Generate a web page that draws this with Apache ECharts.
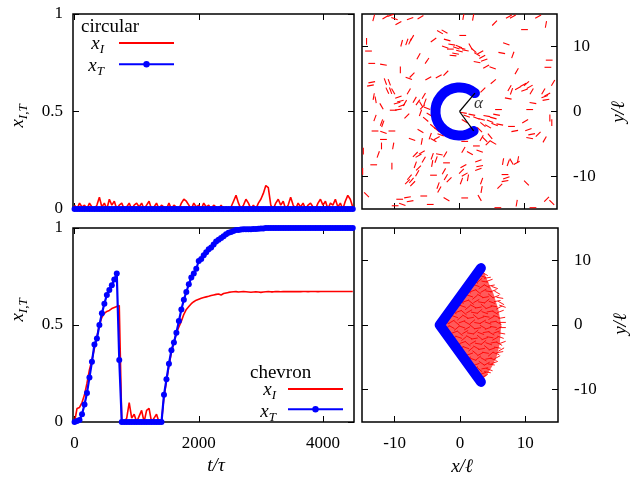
<!DOCTYPE html>
<html>
<head>
<meta charset="utf-8">
<script src="https://cdn.jsdelivr.net/npm/echarts@6/dist/echarts.min.js"></script>
<style>
html, body { margin: 0; padding: 0; background: #fff; }
#chart { width: 631px; height: 481px; }
</style>
</head>
<body>
<div id="chart"></div>
<script>
// time samples (t / tau)
const times = [
  0, 40, 80, 120, 160, 200, 240, 280, 320, 360, 400, 440, 480, 520, 560, 600, 640, 680, 720, 760,
  800, 840, 880, 920, 960, 1000, 1040, 1080, 1120, 1160, 1200, 1240, 1280, 1320, 1360, 1400, 1440, 1480, 1520, 1560,
  1600, 1640, 1680, 1720, 1760, 1800, 1840, 1880, 1920, 1960, 2000, 2040, 2080, 2120, 2160, 2200, 2240, 2280, 2320, 2360,
  2400, 2440, 2480, 2520, 2560, 2600, 2640, 2680, 2720, 2760, 2800, 2840, 2880, 2920, 2960, 3000, 3040, 3080, 3120, 3160,
  3200, 3240, 3280, 3320, 3360, 3400, 3440, 3480, 3520, 3560, 3600, 3640, 3680, 3720, 3760, 3800, 3840, 3880, 3920, 3960,
  4000, 4040, 4080, 4120, 4160, 4200, 4240, 4280, 4320, 4360, 4400, 4440, 4480
];

// circular obstacle
const circularXI = [
  0.02, 0.0, 0.03, 0.01, 0.02, 0.0, 0.03, 0.01, 0.0, 0.02, 0.06, 0.01, 0.03, 0.0, 0.05, 0.02, 0.04, 0.0, 0.02, 0.03,
  0.0, 0.01, 0.03, 0.0, 0.02, 0.03, 0.01, 0.03, 0.0, 0.02, 0.04, 0.0, 0.01, 0.03, 0.0, 0.02, 0.01, 0.0, 0.03, 0.0,
  0.02, 0.01, 0.0, 0.03, 0.05, 0.04, 0.02, 0.0, 0.03, 0.01, 0.02, 0.0, 0.03, 0.01, 0.02, 0.0, 0.02, 0.01, 0.0, 0.02,
  0.0, 0.01, 0.0, 0.01, 0.04, 0.07, 0.03, 0.0, 0.02, 0.05, 0.03, 0.0, 0.02, 0.0, 0.03, 0.05, 0.08, 0.12, 0.11, 0.02,
  0.0, 0.03, 0.05, 0.02, 0.04, 0.0, 0.02, 0.06, 0.02, 0.0, 0.03, 0.01, 0.03, 0.0, 0.02, 0.03, 0.01, 0.0, 0.03, 0.05,
  0.02, 0.04, 0.0, 0.03, 0.02, 0.05, 0.01, 0.03, 0.0, 0.04, 0.07, 0.05, 0.01
];
const circularXT = [
  0, 0, 0, 0, 0, 0, 0, 0, 0, 0, 0, 0, 0, 0, 0, 0, 0, 0, 0, 0,
  0, 0, 0, 0, 0, 0, 0, 0, 0, 0, 0, 0, 0, 0, 0, 0, 0, 0, 0, 0,
  0, 0, 0, 0, 0, 0, 0, 0, 0, 0, 0, 0, 0, 0, 0, 0, 0, 0, 0, 0,
  0, 0, 0, 0, 0, 0, 0, 0, 0, 0, 0, 0, 0, 0, 0, 0, 0, 0, 0, 0,
  0, 0, 0, 0, 0, 0, 0, 0, 0, 0, 0, 0, 0, 0, 0, 0, 0, 0, 0, 0,
  0, 0, 0, 0, 0, 0, 0, 0, 0, 0, 0, 0, 0
];

// chevron obstacle
const chevronXI = [
  0.0, 0.07, 0.075, 0.10, 0.14, 0.20, 0.27, 0.32, 0.38, 0.44, 0.50, 0.54, 0.56, 0.57, 0.575, 0.585, 0.59, 0.595, 0.60, 0.0,
  0.0, 0.02, 0.10, 0.02, 0.04, 0.0, 0.03, 0.06, 0.0, 0.06, 0.07, 0.0, 0.02, 0.04, 0.0, 0.0, 0.13, 0.21, 0.29, 0.36,
  0.41, 0.46, 0.49, 0.52, 0.555, 0.58, 0.595, 0.61, 0.62, 0.628, 0.633, 0.638, 0.642, 0.645, 0.648, 0.652, 0.655, 0.658, 0.66, 0.655,
  0.662, 0.665, 0.668, 0.67, 0.671, 0.672, 0.67, 0.671, 0.672, 0.671, 0.67, 0.669, 0.67, 0.671, 0.67, 0.668, 0.67, 0.671, 0.672, 0.671,
  0.671, 0.672, 0.672, 0.671, 0.672, 0.672, 0.673, 0.672, 0.672, 0.673, 0.672, 0.672, 0.673, 0.673, 0.672, 0.673, 0.673, 0.673, 0.672, 0.673,
  0.673, 0.673, 0.673, 0.673, 0.673, 0.673, 0.673, 0.673, 0.673, 0.673, 0.673, 0.673, 0.673
];
const chevronXT = [
  0.0, 0.005, 0.01, 0.04, 0.09, 0.15, 0.23, 0.31, 0.40, 0.43, 0.50, 0.56, 0.61, 0.655, 0.68, 0.705, 0.735, 0.765, 0.32, 0.0,
  0, 0, 0, 0, 0, 0, 0, 0, 0, 0, 0, 0, 0, 0, 0, 0, 0.14, 0.22, 0.30, 0.37,
  0.41, 0.46, 0.52, 0.58, 0.63, 0.67, 0.71, 0.745, 0.765, 0.79, 0.83, 0.84, 0.86, 0.875, 0.89, 0.90, 0.915, 0.93, 0.94, 0.948,
  0.958, 0.968, 0.975, 0.98, 0.985, 0.99, 0.99, 0.992, 0.993, 0.993, 0.994, 0.994, 0.995, 0.995, 0.996, 0.997, 0.998, 1, 1, 1,
  1, 1, 1, 1, 1, 1, 1, 1, 1, 1, 1, 1, 1, 1, 1, 1, 1, 1, 1, 1,
  1, 1, 1, 1, 1, 1, 1, 1, 1, 1, 1, 1, 1
];

const tTicks = [0, 2000, 4000];
const fracTicks = [0, 0.5, 1];
const posTicks = [-10, 0, 10];

// rods around the circular obstacle: [x, y, angle in degrees]
const circularRods = [
  [-13.2, 14.4, 75], [-11.4, 14.5, 30], [-10.6, 14.8, 20], [-10.0, 14.3, -20], [-9.4, 13.6, 30], [-7.6, 14.3, 20], [-6.0, 14.5, 30],
  [-14.3, 10.8, 90], [-14.0, 9.3, 0], [-13.5, 7.4, 0], [-11.7, 7.2, -10],
  [-8.9, 10.5, 75], [-8.1, 10.7, 70], [-7.6, 10.8, 65], [-7.3, 11.3, 60],
  [-6.3, 8.5, 60], [-5.0, 7.8, 55], [-4.0, 11.0, 35], [-3.0, 12.2, -30], [-2.3, 12.3, -30],
  [-1.9, 11.0, -15], [-1.2, 10.3, -10], [-0.5, 9.8, -20], [0.0, 9.3, -15], [-0.6, 8.9, -10], [-1.4, 9.6, 0], [-2.2, 9.9, -20], [-1.0, 8.6, -5],
  [-9.1, 6.4, 90], [-7.3, 5.6, 45], [-7.8, 5.1, -20], [-4.8, 5.1, 30], [-3.2, 5.4, 30], [-2.1, 5.9, 45],
  [-13.5, 4.5, 10], [-13.7, 4.0, 10], [-11.4, 4.6, -70], [-10.8, 4.5, -70], [-10.6, 3.2, -70], [-11.1, 3.2, -65], [-10.2, 3.1, -60], [-7.8, 3.1, 60],
  [-13.2, 2.3, 80], [-12.9, 1.8, -80], [-9.4, 2.2, 20], [-9.1, 1.6, 15], [-9.6, 1.3, 15], [-8.9, 0.9, 20], [-10.2, 0.2, 0], [-9.4, 0.3, 10], [-8.4, 1.3, 60],
  [-6.9, 1.8, 60], [-6.4, 1.4, 55], [-5.9, 1.1, -60], [-5.5, 2.4, 60], [-5.3, 1.5, 70], [-5.7, 0.7, 45], [-12.0, 0.8, -60],
  [0.6, 14.6, 80], [2.1, 14.5, 80], [5.4, 13.6, 45], [7.6, 14.6, 30], [8.2, 14.6, 30], [12.1, 14.6, 30], [13.3, 13.4, 80], [10.0, 12.6, 0], [0.5, 11.7, 0],
  [-0.1, 10.0, -20], [0.4, 9.7, -15], [0.9, 9.4, -10], [1.7, 10.0, -60], [2.2, 9.4, -40], [2.7, 8.8, -30], [3.2, 9.1, 30], [3.5, 8.4, 30], [3.8, 7.9, 20], [2.7, 7.6, -10], [4.1, 6.9, 30], [5.1, 6.7, -20],
  [7.2, 10.4, -20], [6.5, 9.0, -10], [8.2, 8.7, 70], [8.8, 6.2, 60], [13.8, 7.9, 0], [13.6, 6.8, 0], [5.2, 4.6, 40], [3.6, 3.3, 45],
  [7.7, 3.6, 60], [8.0, 3.1, 70], [9.0, 3.6, 30], [9.8, 4.1, 30], [10.3, 4.3, 40], [10.8, 3.8, 30], [11.1, 3.1, 60], [10.0, 3.3, 20],
  [7.5, 2.0, -10], [12.9, 3.1, 60], [13.1, 2.3, 20], [13.3, 1.8, 10], [13.5, 2.6, 30], [11.3, 1.3, -10], [14.4, 4.4, 60], [6.0, 0.3, 0], [10.8, 0.3, 0],
  [-13.0, -1.0, 70], [-12.0, -1.7, 70], [-11.8, -1.9, 70], [-8.1, -0.7, 45], [-6.0, -0.2, 70], [-5.0, 0.5, -20], [-4.6, -0.5, -30], [-5.2, -1.2, -40],
  [-13.0, -3.0, 0], [-11.7, -3.2, -20], [-10.4, -3.0, 0], [-11.7, -4.3, 0], [-6.0, -3.0, -30], [-7.3, -4.3, -20], [-5.8, -4.6, 80], [-4.5, -3.8, 70],
  [-4.0, -4.4, -30], [-3.5, -4.1, 30], [-2.9, -3.6, -20],
  [-4.1, -2.3, -40], [-3.5, -2.8, -40], [-2.8, -2.6, -30], [-2.6, -3.4, -40], [-1.8, -3.1, -30],
  [-14.8, -6.1, 90], [-12.0, -5.3, 90], [-12.5, -6.6, 70], [-10.2, -5.3, 80], [-13.2, -8.2, 0], [-10.4, -8.4, 90], [-14.9, -9.2, 90],
  [-6.8, -6.6, 45], [-6.3, -6.8, 30], [-5.8, -6.3, 30], [-5.5, -7.4, 60], [-6.8, -8.2, 70], [-6.3, -8.7, 45], [-6.5, -9.5, 60],
  [-7.7, -10.1, 50], [-7.4, -10.6, 50], [-7.2, -11.1, 45], [-8.0, -10.8, 45],
  [-4.2, -6.9, 70], [-3.6, -7.4, 70], [-4.2, -8.0, 80], [-3.1, -6.6, -10], [-2.2, -6.6, 60], [-2.0, -7.9, 0], [-4.0, -9.8, 0],
  [-2.4, -9.2, 60], [-2.1, -10.1, 60], [-1.6, -10.5, 45], [-3.3, -11.4, 70], [-3.1, -12.0, 60], [-2.0, -13.5, -30], [-14.3, -12.8, -45],
  [-9.2, -13.5, 0], [-8.0, -13.2, 10], [-7.6, -13.8, 10], [-8.8, -14.3, -20], [-9.9, -14.5, 0], [-4.5, -14.3, 0], [-5.5, -13.0, 0],
  [0.6, -0.2, -10], [1.1, -0.7, -20], [0.8, -1.5, -30], [1.9, -0.5, -10], [2.6, -1.0, -20], [3.4, -1.2, -15], [4.2, -0.7, -10], [4.7, -1.5, -20],
  [5.2, -1.0, -15], [5.7, -0.5, -10], [5.4, -2.0, -20], [6.2, -2.0, -10], [4.4, -2.3, -30], [3.6, -2.0, -40], [3.1, -2.8, -45], [3.9, -4.3, -45],
  [4.4, -4.8, 45], [5.2, -4.8, -30], [4.7, -3.8, -50], [3.4, -4.1, 60], [0.8, -4.6, 0], [0.6, -5.9, 60], [1.6, -6.4, -30], [3.1, -6.1, -20], [2.6, -5.3, 0],
  [8.0, -2.3, 0], [8.5, -3.0, 10], [10.1, -1.5, 30], [10.6, -2.8, 20], [11.1, -3.5, 10], [10.8, -4.1, -10], [12.1, -3.5, 45], [13.1, -4.3, 60], [13.9, -1.0, 90], [14.2, -1.7, 90],
  [6.7, -7.7, 80], [7.5, -7.9, 70], [8.0, -7.7, -60], [8.8, -7.9, 30], [9.0, -7.4, 80], [2.9, -7.6, 20], [3.1, -8.4, 10], [2.9, -8.9, 20],
  [0.6, -8.4, 30], [0.3, -9.2, 45], [0.8, -9.7, 30], [1.3, -10.2, 80], [0.3, -10.7, 70],
  [7.0, -9.7, 0], [7.2, -10.2, 20], [7.0, -10.7, 10], [6.2, -11.5, 45], [3.4, -10.7, 70], [3.4, -12.0, 80], [10.3, -11.0, -45],
  [3.1, -13.3, -60], [0.8, -13.3, 0], [8.8, -14.1, 80], [13.4, -13.5, 45], [14.2, -14.0, -45], [11.3, -14.8, 0], [5.9, -14.8, 0]
];

// circular obstacle: [cx, cy, radius, start angle, end angle] (degrees)
const circularArc = [[0, 0, 3.7, 50, 306]];
const alphaLabel = [[2.9, 1.2]];

// chevron obstacle polyline and the jammed rods behind it
const chevronLine = [[3.2, 8.8], [-3.1, 0], [3.2, -8.8]];
const fanOutline = [
  [-2.6, 0], [2.8, 8.2], [3.6, 8.3], [4.2, 6.9], [5.1, 4.9], [5.9, 2.3], [6.3, 0],
  [6.1, -2.8], [5.6, -4.9], [4.9, -6.4], [4.0, -7.9], [3.4, -8.4], [2.8, -8.2]
];
const fanRods = [
  [3.3, 8.2, 20], [3.8, 7.9, -30],
  [2.8, 7.4, 30], [3.5, 7.5, -20], [4.2, 7.3, 10],
  [2.3, 6.7, -30], [3.0, 6.9, 40], [3.8, 6.7, -10], [4.5, 6.9, 20],
  [1.7, 6.0, 30], [2.5, 6.1, -20], [3.3, 5.9, 35], [4.1, 6.0, -30], [4.8, 6.1, 10], [5.3, 5.8, -20],
  [1.2, 5.2, -30], [2.0, 5.3, 20], [2.8, 5.1, -40], [3.6, 5.3, 30], [4.4, 5.2, -10], [5.1, 5.3, 20], [5.7, 5.0, -30],
  [0.7, 4.4, 30], [1.5, 4.5, -20], [2.3, 4.3, 40], [3.1, 4.5, -30], [3.9, 4.3, 10], [4.7, 4.5, -40], [5.5, 4.4, 20], [6.1, 4.2, -10],
  [0.1, 3.6, -30], [0.9, 3.7, 20], [1.7, 3.5, -40], [2.5, 3.7, 30], [3.3, 3.5, -10], [4.1, 3.7, 40], [4.9, 3.5, -20], [5.7, 3.7, 10], [6.3, 3.4, -30],
  [-0.4, 2.8, 30], [0.4, 2.9, -20], [1.2, 2.7, 40], [2.0, 2.9, -30], [2.8, 2.7, 10], [3.6, 2.9, -40], [4.4, 2.7, 20], [5.2, 2.9, -10], [6.0, 2.7, 30], [6.5, 2.9, -20],
  [-1.0, 2.0, -30], [-0.2, 2.1, 20], [0.6, 1.9, -40], [1.4, 2.1, 30], [2.2, 1.9, -10], [3.0, 2.1, 40], [3.8, 1.9, -20], [4.6, 2.1, 10], [5.4, 1.9, -30], [6.2, 2.1, 20],
  [-1.6, 1.2, 30], [-0.8, 1.3, -20], [0.0, 1.1, 40], [0.8, 1.3, -30], [1.6, 1.1, 10], [2.4, 1.3, -40], [3.2, 1.1, 20], [4.0, 1.3, -10], [4.8, 1.1, 30], [5.6, 1.3, -20], [6.4, 1.1, 10],
  [-2.1, 0.4, -20], [-1.3, 0.5, 30], [-0.5, 0.3, -40], [0.3, 0.5, 20], [1.1, 0.3, -30], [1.9, 0.5, 40], [2.7, 0.3, -10], [3.5, 0.5, 30], [4.3, 0.3, -20], [5.1, 0.5, 10], [5.9, 0.3, -30], [6.5, 0.4, 0],
  [-2.1, -0.4, 20], [-1.3, -0.3, -30], [-0.5, -0.5, 40], [0.3, -0.3, -20], [1.1, -0.5, 30], [1.9, -0.3, -40], [2.7, -0.5, 10], [3.5, -0.3, -30], [4.3, -0.5, 20], [5.1, -0.3, -10], [5.9, -0.5, 30], [6.5, -0.4, 0],
  [-1.6, -1.2, -30], [-0.8, -1.1, 20], [0.0, -1.3, -40], [0.8, -1.1, 30], [1.6, -1.3, -10], [2.4, -1.1, 40], [3.2, -1.3, -20], [4.0, -1.1, 10], [4.8, -1.3, -30], [5.6, -1.1, 20], [6.4, -1.3, -10],
  [-1.0, -2.0, 30], [-0.2, -1.9, -20], [0.6, -2.1, 40], [1.4, -1.9, -30], [2.2, -2.1, 10], [3.0, -1.9, -40], [3.8, -2.1, 20], [4.6, -1.9, -10], [5.4, -2.1, 30], [6.2, -1.9, -20],
  [-0.4, -2.8, -30], [0.4, -2.7, 20], [1.2, -2.9, -40], [2.0, -2.7, 30], [2.8, -2.9, -10], [3.6, -2.7, 40], [4.4, -2.9, -20], [5.2, -2.7, 10], [6.0, -2.9, -30], [6.5, -2.7, 20],
  [0.1, -3.6, 30], [0.9, -3.5, -20], [1.7, -3.7, 40], [2.5, -3.5, -30], [3.3, -3.7, 10], [4.1, -3.5, -40], [4.9, -3.7, 20], [5.7, -3.5, -10], [6.3, -3.8, 30],
  [0.7, -4.4, -30], [1.5, -4.5, 20], [2.3, -4.3, -40], [3.1, -4.5, 30], [3.9, -4.3, -10], [4.7, -4.5, 40], [5.5, -4.4, -20], [6.1, -4.2, 10],
  [1.2, -5.2, 30], [2.0, -5.3, -20], [2.8, -5.1, 40], [3.6, -5.3, -30], [4.4, -5.2, 10], [5.1, -5.3, -20], [5.7, -5.0, 30],
  [1.7, -6.0, -30], [2.5, -6.1, 20], [3.3, -5.9, -35], [4.1, -6.0, 30], [4.8, -6.1, -10], [5.3, -5.8, 20],
  [2.3, -6.7, 30], [3.0, -6.9, -40], [3.8, -6.7, 10], [4.5, -6.9, -20],
  [2.8, -7.4, -30], [3.5, -7.5, 20], [4.2, -7.3, -10],
  [3.3, -8.2, -20], [3.8, -7.9, 30]
];

const SERIF = '"Liberation Serif", "DejaVu Serif", serif';
const RED = '#ff0000';
const BLUE = '#0000ff';

const pair = (ys) => times.map((t, i) => [t, ys[i]]);

function axis(gridIndex, position, min, max, ticks, showLabel, margin) {
  return {
    type: 'value',
    gridIndex: gridIndex,
    position: position,
    min: min,
    max: max,
    axisLine: { show: false, onZero: false },
    splitLine: { show: false },
    axisTick: {
      show: true,
      inside: true,
      length: 6,
      customValues: ticks,
      lineStyle: { color: '#000', width: 1 }
    },
    axisLabel: {
      show: showLabel,
      customValues: ticks,
      margin: margin || 8,
      color: '#000',
      fontFamily: SERIF,
      fontSize: 17,
      formatter: v => String(v)
    }
  };
}

const makeRodRenderer = (width) => (params, api) => {
  const x = api.value(0);
  const y = api.value(1);
  const a = api.value(2) * Math.PI / 180;
  const h = 0.52;
  const p1 = api.coord([x - h * Math.cos(a), y - h * Math.sin(a)]);
  const p2 = api.coord([x + h * Math.cos(a), y + h * Math.sin(a)]);
  return {
    type: 'line',
    shape: { x1: p1[0], y1: p1[1], x2: p2[0], y2: p2[1] },
    style: { stroke: RED, lineWidth: width }
  };
};

const renderArc = (params, api) => {
  const c = api.coord([api.value(0), api.value(1)]);
  const r = api.size([api.value(2), 0])[0];
  const a0 = api.value(3) * Math.PI / 180;
  const a1 = api.value(4) * Math.PI / 180;
  return {
    type: 'group',
    children: [
      {
        type: 'arc',
        shape: { cx: c[0], cy: c[1], r: r, startAngle: -a0, endAngle: -a1, clockwise: false },
        style: { stroke: BLUE, lineWidth: 10, fill: null, lineCap: 'round' }
      },
      {
        type: 'line',
        shape: { x1: c[0], y1: c[1], x2: c[0] + r * Math.cos(a0), y2: c[1] - r * Math.sin(a0) },
        style: { stroke: '#000', lineWidth: 1.2 }
      },
      {
        type: 'line',
        shape: { x1: c[0], y1: c[1], x2: c[0] + r * Math.cos(a1), y2: c[1] - r * Math.sin(a1) },
        style: { stroke: '#000', lineWidth: 1.2 }
      }
    ]
  };
};

const renderFan = (params, api) => ({
  type: 'polygon',
  shape: { points: fanOutline.map(p => api.coord(p)) },
  style: { fill: 'rgba(255, 20, 20, 0.7)', stroke: null }
});

const mathRich = {
  x: { fontFamily: SERIF, fontStyle: 'italic', fontSize: 19, lineHeight: 24, verticalAlign: 'middle', color: '#000' },
  s: { fontFamily: SERIF, fontStyle: 'italic', fontSize: 13, lineHeight: 13, verticalAlign: 'bottom', color: '#000' },
  m: { fontFamily: SERIF, fontStyle: 'italic', fontSize: 19, lineHeight: 24, verticalAlign: 'middle', color: '#000' }
};

function mathText(x, y, text, align, rotation) {
  return {
    type: 'text',
    x: x,
    y: y,
    rotation: rotation || 0,
    style: { text: text, rich: mathRich, align: align, verticalAlign: 'middle' }
  };
}

function plainText(x, y, text) {
  return {
    type: 'text',
    x: x,
    y: y,
    style: { text: text, fontFamily: SERIF, fontSize: 19, fill: '#000', align: 'left', verticalAlign: 'middle' }
  };
}

const chart = echarts.init(document.getElementById('chart'));

const option = {
  animation: false,
  backgroundColor: '#fff',
  grid: [
    { left: 73, top: 14, width: 281, height: 195 },
    { left: 73, top: 228, width: 281, height: 194 },
    { left: 362, top: 14, width: 195, height: 195 },
    { left: 362, top: 228, width: 196, height: 194 }
  ].map(g => Object.assign(g, { show: true, borderColor: '#000', borderWidth: 1.5, backgroundColor: 'transparent' })),
  xAxis: [
    axis(0, 'bottom', -25, 4500, tTicks, false),
    axis(0, 'top', -25, 4500, tTicks, false),
    axis(1, 'bottom', -25, 4500, tTicks, true, 13),
    axis(1, 'top', -25, 4500, tTicks, false),
    axis(2, 'bottom', -15, 15, posTicks, false),
    axis(2, 'top', -15, 15, posTicks, false),
    axis(3, 'bottom', -15, 15, posTicks, true, 13),
    axis(3, 'top', -15, 15, posTicks, false)
  ],
  yAxis: [
    axis(0, 'left', 0, 1, fracTicks, true, 10),
    axis(0, 'right', 0, 1, fracTicks, false),
    axis(1, 'left', 0, 1, fracTicks, true, 10),
    axis(1, 'right', 0, 1, fracTicks, false),
    axis(2, 'left', -15, 15, posTicks, false),
    axis(2, 'right', -15, 15, posTicks, true, 16),
    axis(3, 'left', -15, 15, posTicks, false),
    axis(3, 'right', -15, 15, posTicks, true, 16)
  ],
  legend: [
    {
      data: [{ name: 'xI1', itemStyle: { opacity: 0 } }, 'xT1'],
      orient: 'vertical', left: 118, top: 39, itemWidth: 55, itemHeight: 8, itemGap: 14,
      padding: 0, selectedMode: false, formatter: () => ''
    },
    {
      data: [{ name: 'xI2', itemStyle: { opacity: 0 } }, 'xT2'],
      orient: 'vertical', left: 287, top: 385, itemWidth: 55, itemHeight: 8, itemGap: 13,
      padding: 0, selectedMode: false, formatter: () => ''
    }
  ],
  graphic: [
    plainText(81, 27, 'circular'),
    mathText(104, 44, '{x|x}{s|I}', 'right'),
    mathText(104, 66, '{x|x}{s|T}', 'right'),
    plainText(250, 373, 'chevron'),
    mathText(276, 390, '{x|x}{s|I}', 'right'),
    mathText(276, 412, '{x|x}{s|T}', 'right'),
    mathText(18, 116, '{x|x}{s|I,T}', 'center', Math.PI / 2),
    mathText(18, 310, '{x|x}{s|I,T}', 'center', Math.PI / 2),
    mathText(216, 466, '{m|t/τ}', 'center'),
    mathText(462, 467, '{m|x/ℓ}', 'center'),
    mathText(619, 112, '{m|y/ℓ}', 'center', Math.PI / 2),
    mathText(621, 324, '{m|y/ℓ}', 'center', Math.PI / 2)
  ],
  series: [
    {
      name: 'xI1', type: 'line', xAxisIndex: 0, yAxisIndex: 0,
      data: pair(circularXI), symbol: 'none',
      lineStyle: { color: RED, width: 1.6 }, itemStyle: { color: RED }
    },
    {
      name: 'xT1', type: 'line', xAxisIndex: 0, yAxisIndex: 0,
      data: pair(circularXT), symbol: 'circle', symbolSize: 6, showAllSymbol: true, clip: false,
      lineStyle: { color: BLUE, width: 2.2 }, itemStyle: { color: BLUE }
    },
    {
      name: 'xI2', type: 'line', xAxisIndex: 2, yAxisIndex: 2,
      data: pair(chevronXI), symbol: 'none',
      lineStyle: { color: RED, width: 1.6 }, itemStyle: { color: RED }
    },
    {
      name: 'xT2', type: 'line', xAxisIndex: 2, yAxisIndex: 2,
      data: pair(chevronXT), symbol: 'circle', symbolSize: 6, showAllSymbol: true, clip: false,
      lineStyle: { color: BLUE, width: 2.2 }, itemStyle: { color: BLUE }
    },
    {
      type: 'custom', xAxisIndex: 4, yAxisIndex: 4, clip: true,
      data: circularRods, renderItem: makeRodRenderer(1.1)
    },
    {
      type: 'custom', xAxisIndex: 4, yAxisIndex: 4,
      data: circularArc, renderItem: renderArc
    },
    {
      type: 'scatter', xAxisIndex: 4, yAxisIndex: 4, symbolSize: 0,
      data: alphaLabel,
      label: {
        show: true, position: 'inside', formatter: 'α',
        fontFamily: SERIF, fontStyle: 'italic', fontSize: 17, color: '#000'
      }
    },
    {
      type: 'custom', xAxisIndex: 6, yAxisIndex: 6,
      data: [[0]], renderItem: renderFan
    },
    {
      type: 'custom', xAxisIndex: 6, yAxisIndex: 6, clip: true,
      data: fanRods, renderItem: makeRodRenderer(0.9)
    },
    {
      type: 'line', xAxisIndex: 6, yAxisIndex: 6,
      data: chevronLine, symbol: 'none',
      lineStyle: { color: BLUE, width: 10, cap: 'round', join: 'round' }
    }
  ]
};

chart.setOption(option);
</script>
</body>
</html>
